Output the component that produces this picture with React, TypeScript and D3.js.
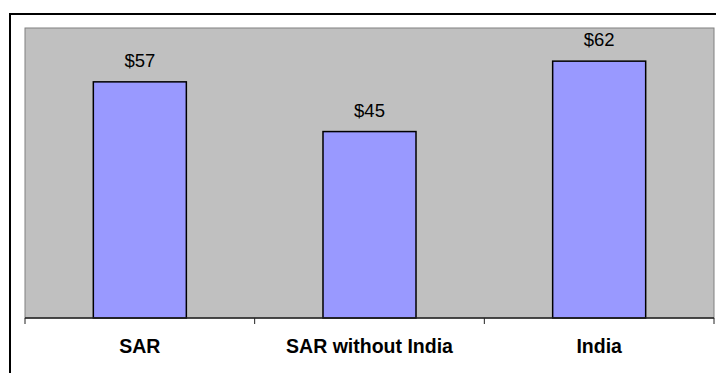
import React from "react";
import * as d3 from "d3";

const categories = ["SAR", "SAR without India", "India"];
const values = [57, 45, 62];
const valueLabels = ["$57", "$45", "$62"];

const W = 716;
const H = 373;
const plot = { left: 25, top: 28, right: 714, bottom: 318 };

export default function App() {
  const x = d3
    .scaleBand<string>()
    .domain(categories)
    .range([plot.left, plot.right])
    .paddingInner(0)
    .paddingOuter(0);
  const y = d3.scaleLinear().domain([0, 70]).range([plot.bottom, plot.top]);
  const bw = x.bandwidth() * 0.405;
  const tickXs = [plot.left, ...categories.map((c) => (x(c) as number) + x.bandwidth())];

  return (
    <svg
      width={W}
      height={H}
      style={{ position: "absolute", left: 0, top: 0, fontFamily: "'Liberation Sans', Arial, sans-serif" }}
    >
      <rect x={0} y={0} width={W} height={H} fill="#ffffff" />
      <rect x={10} y={14} width={W + 20} height={H + 20} fill="#ffffff" stroke="#000000" strokeWidth={2} />
      <rect
        x={plot.left}
        y={plot.top}
        width={plot.right - plot.left}
        height={plot.bottom - plot.top}
        fill="#C0C0C0"
        stroke="#808080"
        strokeWidth={1}
      />
      {categories.map((c, i) => {
        const cx = (x(c) as number) + x.bandwidth() / 2;
        const top = y(values[i]);
        return (
          <g key={c}>
            <rect
              x={cx - bw / 2}
              y={top}
              width={bw}
              height={plot.bottom - top}
              fill="#9999FF"
              stroke="#000000"
              strokeWidth={1.5}
            />
            <text x={cx} y={top - 15} textAnchor="middle" fontSize={18.5} fill="#000">
              {valueLabels[i]}
            </text>
            <text x={cx} y={353} textAnchor="middle" fontSize={19.5} fontWeight="bold" fill="#000">
              {c}
            </text>
          </g>
        );
      })}
      <line x1={plot.left} x2={plot.right} y1={plot.bottom} y2={plot.bottom} stroke="#222" strokeWidth={1.5} />
      {tickXs.map((tx, i) => (
        <line key={i} x1={tx} x2={tx} y1={plot.bottom} y2={plot.bottom + 6} stroke="#222" strokeWidth={1} />
      ))}
    </svg>
  );
}
